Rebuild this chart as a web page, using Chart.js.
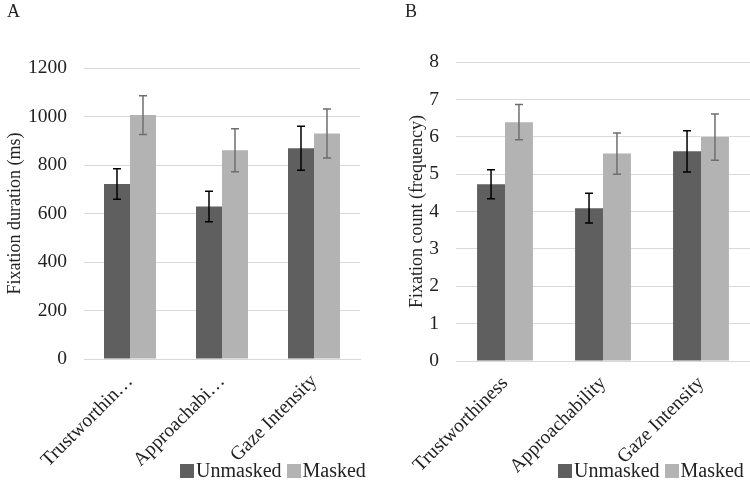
<!DOCTYPE html>
<html>
<head>
<meta charset="utf-8">
<script src="https://cdn.jsdelivr.net/npm/chart.js@4/dist/chart.umd.min.js"></script>
<style>
  body { margin: 0; background: #fff; font-family: "Liberation Serif", "Times New Roman", serif; color: #222; }
  .wrap { position: relative; width: 750px; height: 491px; }
  .panel { position: absolute; top: 0; width: 375px; height: 491px; }
  .tag { position: absolute; top: 1px; font-size: 18px; color: #222; }
  .legend { position: absolute; top: 459px; font-size: 20px; display: flex; align-items: center; white-space: nowrap; }
  .legend .box { display: inline-block; width: 14px; height: 14px; margin-right: 2px; }
  .legend .item { display: flex; align-items: center; margin-right: 5px; }
</style>
</head>
<body>
<div class="wrap">
  <div class="panel" style="left:0"><canvas id="chartA" width="375" height="491"></canvas></div>
  <div class="panel" style="left:375px"><canvas id="chartB" width="375" height="491"></canvas></div>
  <div class="tag" style="left:7px">A</div>
  <div class="tag" style="left:405px">B</div>
  <div class="legend" id="legendA" style="left:180px"></div>
  <div class="legend" id="legendB" style="left:558px"></div>
</div>
<script>
const labelsA = ['Trustworthin…', 'Approachabi…', 'Gaze Intensity'];
const labelsB = ['Trustworthiness', 'Approachability', 'Gaze Intensity'];
const seriesNames = ['Unmasked', 'Masked'];

// panel A: fixation duration (ms)
const durUnmasked = [722, 629, 869];
const durMasked = [1006, 861, 930];
const durUnmaskedErr = [63, 63, 91];
const durMaskedErr = [80, 89, 101];

// panel B: fixation count
const cntUnmasked = [4.73, 4.09, 5.61];
const cntMasked = [6.39, 5.55, 5.99];
const cntUnmaskedErr = [0.39, 0.40, 0.55];
const cntMaskedErr = [0.47, 0.55, 0.62];

const colors = ['#5f5f5f', '#b3b3b3'];
const errColors = ['#000000', '#6e6e6e'];
const textColor = '#222';
const font = "'Liberation Serif', 'Times New Roman', serif";
Chart.defaults.font.family = font;

// draws the error bars on top of the bars
const errorBars = {
  id: 'errorBars',
  afterDatasetsDraw(chart) {
    const ctx = chart.ctx;
    const y = chart.scales.y;
    chart.data.datasets.forEach((ds, i) => {
      const meta = chart.getDatasetMeta(i);
      meta.data.forEach((bar, j) => {
        const v = ds.data[j], e = ds.err[j];
        const top = y.getPixelForValue(v + e);
        const bot = y.getPixelForValue(v - e);
        ctx.save();
        ctx.strokeStyle = errColors[i];
        ctx.lineWidth = 1.5;
        ctx.beginPath();
        ctx.moveTo(bar.x, top); ctx.lineTo(bar.x, bot);
        ctx.moveTo(bar.x - 4, top); ctx.lineTo(bar.x + 4, top);
        ctx.moveTo(bar.x - 4, bot); ctx.lineTo(bar.x + 4, bot);
        ctx.stroke();
        ctx.restore();
      });
    });
  }
};

// legend as html so it can sit beside the rotated labels
function makeLegend(id) {
  const el = document.getElementById(id);
  seriesNames.forEach((name, i) => {
    const item = document.createElement('span');
    item.className = 'item';
    item.innerHTML = '<span class="box" style="background:' + colors[i] + '"></span>' + name;
    el.appendChild(item);
  });
}

function makeChart(id, labels, vals, errs, yMax, yStep, yTitle, pad, yWidth, xHeight, groupPct) {
  new Chart(document.getElementById(id), {
    type: 'bar',
    data: {
      labels: labels,
      datasets: seriesNames.map((name, i) => ({
        label: name,
        data: vals[i],
        err: errs[i],
        backgroundColor: colors[i],
        categoryPercentage: groupPct,
        barPercentage: 1
      }))
    },
    options: {
      responsive: false,
      animation: false,
      layout: { padding: pad },
      plugins: {
        tooltip: { enabled: false },
        legend: { display: false }
      },
      scales: {
        x: {
          grid: { display: false },
          border: { color: '#d9d9d9' },
          ticks: {
            color: textColor, minRotation: 45, maxRotation: 45, autoSkip: false,
            font: { family: font, size: 19.5 }
          },
          afterFit: s => { s.height = xHeight; }
        },
        y: {
          min: 0, max: yMax,
          border: { display: false },
          grid: { color: '#d9d9d9', drawTicks: false },
          ticks: {
            stepSize: yStep, color: textColor, padding: 17,
            font: { family: font, size: 19.5 },
            callback: v => String(v)
          },
          title: {
            display: true, text: yTitle, color: textColor,
            font: { family: font, size: 18 }
          },
          afterFit: s => { s.width = yWidth; }
        }
      }
    },
    plugins: [errorBars]
  });
}

makeLegend('legendA');
makeLegend('legendB');
makeChart('chartA', labelsA, [durUnmasked, durMasked], [durUnmaskedErr, durMaskedErr],
  1200, 200, 'Fixation duration (ms)', { top: 68, left: 0, right: 15, bottom: 0 }, 84, 132, 0.565);
makeChart('chartB', labelsB, [cntUnmasked, cntMasked], [cntUnmaskedErr, cntMaskedErr],
  8, 1, 'Fixation count (frequency)', { top: 62, left: 27, right: 0, bottom: 0 }, 54, 130, 0.57);
</script>
</body>
</html>
